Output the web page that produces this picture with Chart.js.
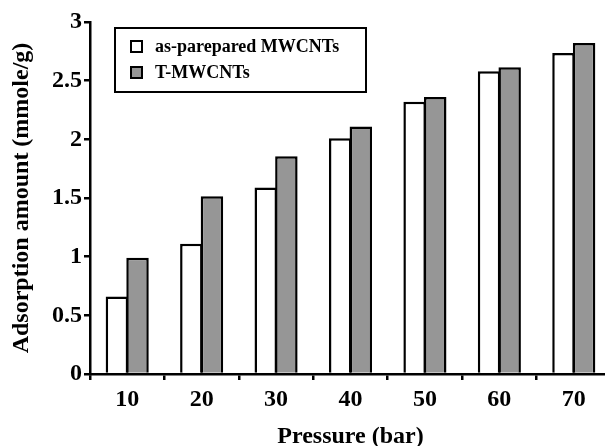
<!DOCTYPE html>
<html>
<head>
<meta charset="utf-8">
<script src="https://cdn.jsdelivr.net/npm/chart.js@4/dist/chart.umd.min.js"></script>
<style>
  html, body { margin: 0; padding: 0; overflow: hidden; background: #ffffff; }
  #wrap { width: 611px; height: 446px; }
</style>
</head>
<body>
<div id="wrap"><canvas id="c" width="611" height="446"></canvas></div>
<script>
const categories = ['10', '20', '30', '40', '50', '60', '70'];
const asPrepared = [0.66, 1.11, 1.59, 2.01, 2.32, 2.58, 2.735];
const tMWCNTs = [0.99, 1.515, 1.855, 2.11, 2.36, 2.615, 2.82];
const seriesNames = ['as-parepared MWCNTs', 'T-MWCNTs'];
const yTicks = [0, 0.5, 1, 1.5, 2, 2.5, 3];
const xTitle = 'Pressure (bar)';
const yTitle = 'Adsorption amount (mmole/g)';

const FONT = '"Liberation Serif", "Times New Roman", serif';

const legendPlugin = {
  id: 'boxLegend',
  afterDraw(chart) {
    const ctx = chart.ctx;
    ctx.save();
    ctx.lineWidth = 2;
    ctx.strokeStyle = '#000';
    ctx.strokeRect(115, 28, 251, 64);
    const rows = [47, 73];
    chart.data.datasets.forEach((ds, i) => {
      const y = rows[i];
      ctx.fillStyle = ds.backgroundColor;
      ctx.fillRect(131, y - 6, 11, 11);
      ctx.strokeRect(131, y - 6, 11, 11);
      ctx.fillStyle = '#000';
      ctx.font = 'bold 18px ' + FONT;
      ctx.textBaseline = 'middle';
      ctx.textAlign = 'left';
      ctx.fillText(ds.label, 155, y);
    });
    ctx.restore();
  }
};

new Chart(document.getElementById('c'), {
  type: 'bar',
  data: {
    labels: categories,
    datasets: [
      { label: seriesNames[0], data: asPrepared, backgroundColor: '#ffffff', borderColor: '#000000', borderWidth: 2.5,
        categoryPercentage: 0.554, barPercentage: 1.09 },
      { label: seriesNames[1], data: tMWCNTs, backgroundColor: '#969696', borderColor: '#000000', borderWidth: 2.5,
        categoryPercentage: 0.554, barPercentage: 1.09 }
    ]
  },
  options: {
    responsive: false,
    animation: false,
    devicePixelRatio: 1,
    layout: { padding: { top: 22, left: 0, right: 0, bottom: 0 } },
    plugins: { legend: { display: false }, tooltip: { enabled: false } },
    scales: {
      x: {
        offset: true,
        afterFit(s) { s.height = 72; },
        grid: { display: true, offset: true, drawOnChartArea: false, drawTicks: true, tickLength: 6, color: '#000', lineWidth: 2.5 },
        border: { display: true, color: '#000', width: 2.5 },
        ticks: { color: '#000', font: { family: FONT, size: 24, weight: 'bold' }, padding: 5, maxRotation: 0 },
        title: { display: true, text: xTitle, color: '#000', font: { family: FONT, size: 24, weight: 'bold', lineHeight: 1 }, padding: { top: 0, bottom: -3 } }
      },
      y: {
        min: 0, max: 3,
        afterFit(s) { s.width = 90; },
        afterBuildTicks(s) { s.ticks = yTicks.map(v => ({ value: v })); },
        grid: { display: true, drawOnChartArea: false, drawTicks: true, tickLength: 6, color: '#000', lineWidth: 2.5 },
        border: { display: true, color: '#000', width: 2.5 },
        ticks: { color: '#000', font: { family: FONT, size: 24, weight: 'bold' }, padding: 2,
                 callback: (v) => String(v) },
        title: { display: true, text: yTitle, color: '#000', font: { family: FONT, size: 24, weight: 'bold', lineHeight: 1 }, padding: { top: 10, bottom: 0 } }
      }
    }
  },
  plugins: [legendPlugin]
});
</script>
</body>
</html>
